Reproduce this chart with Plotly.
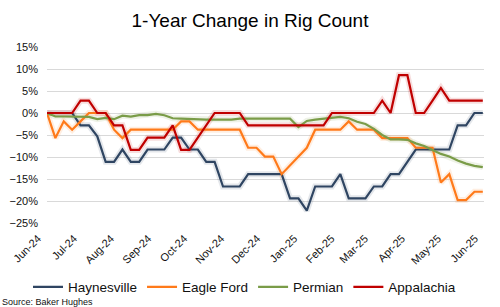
import pandas as pd
import plotly.graph_objects as go

# ---- data ----
weeks = pd.date_range("2024-06-28", periods=53, freq="7D")

haynesville = [0, 0, 0, 0, -2.8, -2.8, -5.3, -11.1, -11.1, -8.3,
               -11.1, -11.1, -8.3, -8.3, -8.3, -5.6, -5.6, -8.3, -8.3, -11.1,
               -11.1, -16.7, -16.7, -16.7, -13.9, -13.9, -13.9, -13.9, -13.9, -19.4,
               -19.4, -22.2, -16.7, -16.7, -16.7, -13.9, -19.4, -19.4, -19.4, -16.7,
               -16.7, -13.9, -13.9, -11.1, -8.3, -8.3, -8.3, -8.3, -8.3, -2.8,
               -2.8, 0, 0]
eagle_ford = [0, -5.7, -1.9, -3.8, -1.9, 0, 0, 0, -3.8, -5.7,
              -3.8, -3.8, -3.8, -3.8, -3.8, -3.8, -1.9, -1.9, -3.8, -3.8,
              -3.8, -3.8, -3.8, -3.8, -7.9, -7.9, -9.9, -9.9, -13.9, -11.9,
              -9.9, -7.9, -3.8, -3.8, -3.8, -3.8, -1.9, -3.8, -3.8, -3.8,
              -5.7, -5.7, -5.7, -5.7, -7.9, -7.9, -7.9, -15.8, -13.9, -19.8,
              -19.8, -17.9, -17.9]
permian = [0, -0.8, -0.8, -0.8, -0.9, -0.9, -1.4, -1.1, -1.4, -0.6,
           -0.8, -0.5, -0.5, -0.2, -0.5, -1.2, -1.3, -1.4, -1.5, -1.5,
           -1.5, -1.5, -1.5, -1.3, -1.3, -1.3, -1.3, -1.3, -1.2, -1.3,
           -3.2, -1.8, -1.5, -1.3, -1.1, -0.9, -1.2, -2.0, -2.5, -3.6,
           -5.0, -6.0, -6.0, -6.1, -6.9, -7.5, -8.4, -9.3, -9.9, -10.8,
           -11.5, -12.0, -12.3]
appalachia = [0, 0, 0, 0, 2.8, 2.8, 0, 0, -2.8, -2.8,
              -8.4, -8.4, -5.6, -5.6, -5.6, -2.8, -8.4, -8.4, -5.6, -2.8,
              0, 0, 0, 0, -2.8, -2.8, -2.8, -2.8, -2.8, -2.8,
              -2.8, -2.8, -2.8, -2.8, 0, 0, 0, 0, 0, 0,
              2.8, 0, 8.6, 8.6, 0, 0, 2.8, 5.7, 2.8, 2.8,
              2.8, 2.8, 2.8]

series_names = ["Haynesville", "Eagle Ford", "Permian", "Appalachia"]
series_values = [haynesville, eagle_ford, permian, appalachia]
colors = ["#2F4562", "#FF7A1A", "#7A9C48", "#C00000"]
halo_colors = ["rgba(47,69,98,0.13)", "rgba(255,122,26,0.13)",
               "rgba(122,156,72,0.13)", "rgba(192,0,0,0.13)"]

tick_labels = ["Jun-24", "Jul-24", "Aug-24", "Sep-24", "Oct-24", "Nov-24", "Dec-24",
               "Jan-25", "Feb-25", "Mar-25", "Apr-25", "May-25", "Jun-25"]
tick_dates = pd.to_datetime(["2024-06-28", "2024-07-28", "2024-08-28", "2024-09-28",
                             "2024-10-28", "2024-11-28", "2024-12-28", "2025-01-28",
                             "2025-02-28", "2025-03-28", "2025-04-28", "2025-05-28",
                             "2025-06-28"])

FONT = "Liberation Sans, Arial, sans-serif"

fig = go.Figure()
for name, vals, hc in zip(series_names, series_values, halo_colors):
    fig.add_trace(go.Scatter(x=weeks, y=vals, mode="lines", showlegend=False,
                             hoverinfo="skip", line=dict(color=hc, width=6)))
for name, vals, c in zip(series_names, series_values, colors):
    fig.add_trace(go.Scatter(x=weeks, y=vals, mode="lines", name=name,
                             line=dict(color=c, width=2.2)))

fig.update_layout(
    width=500, height=307,
    margin=dict(l=47, r=16, t=47, b=84),
    paper_bgcolor="white", plot_bgcolor="white",
    font=dict(family=FONT, color="#111111"),
    title=dict(text="1-Year Change in Rig Count", font=dict(size=19, color="#000000"),
               x=0.5, xref="container", xanchor="center",
               y=1 - 20 / 307, yref="container", yanchor="middle"),
    xaxis=dict(type="date", range=["2024-06-28", "2025-06-28"],
               tickvals=tick_dates, ticktext=tick_labels, tickangle=-45,
               tickfont=dict(size=11, color="#111111"),
               ticklabelshift=-9, ticklabelstandoff=6,
               showgrid=False, zeroline=False, showline=False, ticks="",
               automargin=False),
    yaxis=dict(range=[-25, 15], dtick=5, ticksuffix="%",
               tickfont=dict(size=11, color="#111111"),
               ticklabelstandoff=8,
               gridcolor="#D9D9D9", gridwidth=1, zeroline=False, showline=False,
               ticks="", automargin=False),
    legend=dict(orientation="h", xref="container", x=0.056, xanchor="left",
                yref="container", y=1 - 287 / 307, yanchor="middle",
                font=dict(size=13.5, color="#111111"), bgcolor="rgba(0,0,0,0)"),
    annotations=[dict(text="Source: Baker Hughes", xref="paper", yref="paper",
                      x=-47 / 437, y=-(302 - 223) / 176, xanchor="left", yanchor="middle",
                      showarrow=False, font=dict(size=9, color="#111111"))],
)

fig.write_html("out.html")
